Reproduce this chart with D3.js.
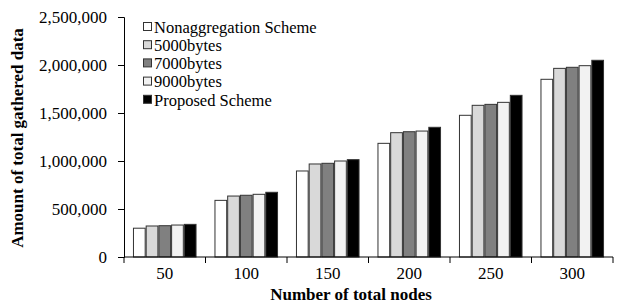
<!DOCTYPE html>
<html>
<head>
<meta charset="utf-8">
<script src="https://cdn.jsdelivr.net/npm/d3@7"></script>
<style>
    body { margin: 0; background: #fff; }
</style>
</head>
<body>
<div id="chart"></div>
<script>
// chart data
var categories = ["50", "100", "150", "200", "250", "300"];
var seriesNames = ["Nonaggregation Scheme", "5000bytes", "7000bytes", "9000bytes", "Proposed Scheme"];
var nonaggregation = [300000, 590000, 896000, 1184000, 1476000, 1851000];
var bytes5000 = [323000, 635000, 969000, 1295000, 1580000, 1965000];
var bytes7000 = [326000, 643000, 976000, 1305000, 1590000, 1976000];
var bytes9000 = [333000, 653000, 1000000, 1312000, 1611000, 1993000];
var proposed = [340000, 674000, 1014000, 1351000, 1684000, 2049000];
var yTicks = [0, 500000, 1000000, 1500000, 2000000, 2500000];
var colors = ["#ffffff", "#d9d9d9", "#808080", "#f2f2f2", "#000000"];

var seriesValues = [nonaggregation, bytes5000, bytes7000, bytes9000, proposed];
var serif = "'Liberation Serif', 'Times New Roman', Times, serif";

var width = 617, height = 304;
var margin = { top: 17, right: 4, bottom: 47, left: 124 };

var svg = d3.select("#chart").append("svg")
    .attr("width", width)
    .attr("height", height)
    .attr("font-family", serif);

var x0 = d3.scaleBand()
    .domain(categories)
    .range([margin.left, width - margin.right])
    .paddingInner(0.22)
    .paddingOuter(0.11);

var x1 = d3.scaleBand()
    .domain(seriesNames)
    .range([0, x0.bandwidth()]);

var y = d3.scaleLinear()
    .domain([0, 2500000])
    .range([height - margin.bottom, margin.top]);

// bars
var groups = svg.selectAll(".group")
    .data(categories)
    .enter().append("g")
    .attr("class", "group")
    .attr("transform", function (d) { return "translate(" + x0(d) + ",0)"; });

groups.selectAll("rect")
    .data(function (d, i) {
        return seriesNames.map(function (s, j) { return { name: s, value: seriesValues[j][i], idx: j }; });
    })
    .enter().append("rect")
    .attr("x", function (d) { return x1(d.name) + 0.5; })
    .attr("y", function (d) { return y(d.value); })
    .attr("width", x1.bandwidth() - 1)
    .attr("height", function (d) { return y(0) - y(d.value); })
    .attr("fill", function (d) { return colors[d.idx]; })
    .attr("stroke", "#333")
    .attr("stroke-width", 1);

// y axis
var yAxis = svg.append("g")
    .attr("transform", "translate(" + margin.left + ",0)")
    .call(d3.axisLeft(y).tickValues(yTicks).tickSize(6).tickPadding(11)
        .tickFormat(d3.format(",")));
yAxis.attr("font-family", serif).attr("font-size", 17);
yAxis.select(".domain").attr("stroke", "#000");

// x axis, ticks at band boundaries
var xAxis = svg.append("g")
    .attr("transform", "translate(0," + y(0) + ")");
xAxis.append("line")
    .attr("x1", margin.left).attr("x2", width - margin.right)
    .attr("stroke", "#000");
var edges = d3.range(categories.length + 1).map(function (i) {
    return margin.left + i * x0.step();
});
xAxis.selectAll(".tick-line")
    .data(edges)
    .enter().append("line")
    .attr("x1", function (d) { return d; })
    .attr("x2", function (d) { return d; })
    .attr("y1", 0).attr("y2", 6)
    .attr("stroke", "#000");
xAxis.selectAll(".tick-label")
    .data(categories)
    .enter().append("text")
    .attr("x", function (d) { return x0(d) + x0.bandwidth() / 2; })
    .attr("y", 22)
    .attr("text-anchor", "middle")
    .attr("font-size", 17)
    .text(function (d) { return d; });

// axis titles
svg.append("text")
    .attr("x", 351)
    .attr("y", 300)
    .attr("text-anchor", "middle")
    .attr("font-size", 17)
    .attr("font-weight", "bold")
    .text("Number of total nodes");

svg.append("text")
    .attr("transform", "translate(23,138) rotate(-90)")
    .attr("text-anchor", "middle")
    .attr("font-size", 17)
    .attr("font-weight", "bold")
    .text("Amount of total gathered data");

// legend
var legend = svg.selectAll(".legend")
    .data(seriesNames)
    .enter().append("g")
    .attr("class", "legend")
    .attr("transform", function (d, i) { return "translate(143," + (27 + i * 18.2) + ")"; });

legend.append("rect")
    .attr("x", 0.5).attr("y", -4.5)
    .attr("width", 8).attr("height", 8)
    .attr("fill", function (d, i) { return colors[i]; })
    .attr("stroke", "#333");

legend.append("text")
    .attr("x", 11)
    .attr("y", 0)
    .attr("dy", "0.35em")
    .attr("font-size", 16.5)
    .text(function (d) { return d; });
</script>
</body>
</html>
